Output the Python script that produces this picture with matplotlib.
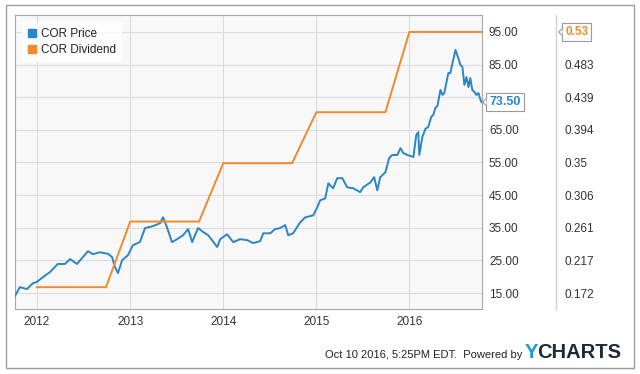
import matplotlib
matplotlib.use("Agg")
import matplotlib.pyplot as plt
from matplotlib.patches import Patch, Rectangle, Polygon
import pandas as pd

plt.rcParams['font.family'] = ['Liberation Sans', 'DejaVu Sans']

# price series
price_dates = [
    "2011-10-07", "2011-10-26", "2011-11-23", "2011-12-16", "2012-01-01", "2012-01-25",
    "2012-02-21", "2012-03-23", "2012-04-20", "2012-05-10", "2012-06-06", "2012-06-26",
    "2012-07-19", "2012-08-08", "2012-09-04", "2012-10-06", "2012-10-22", "2012-11-02",
    "2012-11-14", "2012-11-30", "2012-12-23", "2013-01-12", "2013-02-08", "2013-02-28",
    "2013-03-31", "2013-04-28", "2013-05-10", "2013-05-25", "2013-06-14", "2013-07-04",
    "2013-07-27", "2013-08-16", "2013-09-01", "2013-09-24", "2013-10-14", "2013-11-03",
    "2013-11-18", "2013-12-08", "2013-12-20", "2014-01-16", "2014-02-09", "2014-03-08",
    "2014-04-05", "2014-04-28", "2014-05-26", "2014-06-07", "2014-07-04", "2014-07-24",
    "2014-08-12", "2014-09-01", "2014-09-13", "2014-10-02", "2014-10-30", "2014-11-19",
    "2014-12-20", "2015-01-05", "2015-01-16", "2015-02-05", "2015-02-17", "2015-03-08",
    "2015-03-24", "2015-04-13", "2015-05-02", "2015-05-26", "2015-06-22", "2015-07-04",
    "2015-08-01", "2015-08-16", "2015-08-28", "2015-09-09", "2015-09-29", "2015-10-14",
    "2015-10-26", "2015-11-15", "2015-11-27", "2015-12-08", "2015-12-24", "2016-01-05",
    "2016-01-17", "2016-01-28", "2016-02-05", "2016-02-09", "2016-02-21", "2016-03-04",
    "2016-03-15", "2016-03-27", "2016-04-04", "2016-04-12", "2016-04-20", "2016-05-02",
    "2016-05-10", "2016-05-17", "2016-06-02", "2016-06-10", "2016-06-14", "2016-06-30",
    "2016-07-11", "2016-07-19", "2016-07-27", "2016-08-04", "2016-08-12", "2016-08-20",
    "2016-08-27", "2016-09-04", "2016-09-12", "2016-09-20", "2016-09-28", "2016-10-06",
    "2016-10-10",
]
price_vals = [
    14.1, 16.8, 16.2, 18.0, 18.4, 19.9,
    21.4, 23.9, 23.9, 25.4, 23.9, 25.7,
    27.8, 26.9, 27.5, 27.0, 26.0, 23.0,
    21.1, 25.0, 26.6, 29.7, 30.6, 34.9,
    35.5, 36.4, 38.2, 35.2, 30.6, 31.5,
    32.7, 34.6, 30.6, 34.9, 33.7, 32.7,
    31.2, 29.1, 31.5, 33.0, 30.6, 31.5,
    31.2, 30.3, 30.9, 33.3, 33.3, 34.6,
    34.9, 35.8, 32.7, 33.3, 36.7, 38.2,
    38.8, 41.3, 43.4, 44.0, 48.6, 47.1,
    50.2, 50.2, 47.4, 47.1, 45.9, 47.4,
    48.9, 50.5, 46.5, 50.5, 52.0, 56.4,
    57.3, 57.3, 59.4, 57.9, 57.3, 57.0,
    56.7, 63.4, 64.3, 57.3, 62.8, 65.3,
    65.9, 69.0, 69.6, 71.7, 72.3, 77.2,
    75.7, 76.3, 82.4, 82.4, 84.0, 89.5,
    87.0, 84.9, 84.3, 78.8, 81.2, 78.1,
    80.9, 77.2, 76.6, 75.7, 76.3, 74.2,
    73.5,
]

# dividend series
div_dates = ["2012-01-01", "2012-09-28", "2013-01-01", "2013-09-28", "2014-01-01",
             "2014-09-28", "2015-01-01", "2015-09-29", "2016-01-01", "2016-10-10"]
div_vals = [0.18, 0.18, 0.27, 0.27, 0.35, 0.35, 0.42, 0.42, 0.53, 0.53]

price_ticks = [15, 25, 35, 45, 55, 65, 75, 85, 95]
div_tick_labels = ["0.172", "0.217", "0.261", "0.306", "0.35", "0.394", "0.439", "0.483", "0.53"]
year_ticks = ["2012-01-01", "2013-01-01", "2014-01-01", "2015-01-01", "2016-01-01"]
year_labels = ["2012", "2013", "2014", "2015", "2016"]

blue = '#2a85c7'
orange = '#f08a2c'

W, H = 640, 374
fig = plt.figure(figsize=(W / 100, H / 100), dpi=100)
fig.patches.append(Rectangle((6 / W, 1 - 368 / H), 628 / W, 363 / H, transform=fig.transFigure,
                             fill=False, ec='#9c9c9c', lw=1.0))

ax = fig.add_axes([15 / W, 1 - 309 / H, 467 / W, 294 / H])
ax.set_facecolor('#f8f8f8')
ax.plot(pd.to_datetime(price_dates), price_vals, color=blue, lw=1.4, zorder=4)

ax.set_xlim(pd.Timestamp("2011-10-07"), pd.Timestamp("2016-10-12"))
ymin, ymax = 10.1, 100.2
ax.set_ylim(ymin, ymax)
ax.set_yticks(price_ticks)
ax.set_yticklabels(["%.2f" % v for v in price_ticks])
ax.set_xticks(pd.to_datetime(year_ticks))
ax.set_xticklabels(year_labels)
ax.grid(True, color='#dcdcdc', lw=0.8)
ax.set_axisbelow(True)
for s in ax.spines.values():
    s.set_color('#a8a8a8')
    s.set_linewidth(0.8)

# dividend axis, same pixels mapped 15..95 -> 0.172..0.53
ax2 = ax.twinx()
scale = (0.53 - 0.172) / 80.0
ax2.set_ylim(0.172 + (ymin - 15) * scale, 0.172 + (ymax - 15) * scale)
ax2.plot(pd.to_datetime(div_dates), div_vals, color=orange, lw=1.4)
ax2.set_yticks([0.172 + (p - 15) * scale for p in price_ticks])
ax2.set_yticklabels(div_tick_labels)
ax2.spines['right'].set_position(('axes', (556 - 15) / 467))
ax2.spines['right'].set_color('#d0d0d0')
ax2.spines['right'].set_linewidth(1.0)
for k in ['left', 'top', 'bottom']:
    ax2.spines[k].set_visible(False)
ax2.tick_params(axis='y', length=0, labelsize=8.5, colors='#333333', pad=6)

# price labels on the right (after twinx, which moves them back left)
ax.yaxis.tick_right()
ax.tick_params(axis='both', length=0, labelsize=8.5, colors='#333333')
ax.tick_params(axis='y', pad=5, left=False, labelleft=False, right=True, labelright=True)
ax.tick_params(axis='x', pad=5)


def value_box(axis, text, yval, dx, color, fs):
    axis.annotate(text, xy=(1, yval), xycoords=('axes fraction', 'data'),
                  xytext=(dx, 0), textcoords='offset pixels', ha='left', va='center',
                  fontsize=fs, fontweight='bold', color=color, annotation_clip=False, zorder=10,
                  bbox=dict(boxstyle='square,pad=0.25', fc='white', ec='#9a9a9a', lw=0.8))
    # small "<" notch on the left side of the box
    lo, hi = axis.get_ylim()
    px = 1.0 / 467
    py = (hi - lo) / 294
    x0 = 1 + (dx - 2.5) * px
    pts = [(x0, yval + 3.5 * py), (x0 - 4 * px, yval), (x0, yval - 3.5 * py)]
    axis.add_patch(Polygon(pts, closed=True, fc='white', ec='none', transform=axis.get_yaxis_transform(),
                           clip_on=False, zorder=11))
    axis.plot([p[0] for p in pts], [p[1] for p in pts], color='#9a9a9a', lw=0.8,
              transform=axis.get_yaxis_transform(), clip_on=False, zorder=12)


value_box(ax, "%.2f" % price_vals[-1], price_vals[-1], 7, blue, 9)
value_box(ax2, "%.2f" % div_vals[-1], div_vals[-1], 83, orange, 8.5)

handles = [Patch(color=blue, label='COR Price'), Patch(color=orange, label='COR Dividend')]
leg = ax2.legend(handles=handles, loc='upper left', bbox_to_anchor=(0.002, 0.995), fontsize=8.5,
                 handlelength=0.7, handleheight=0.7, handletextpad=0.4, borderpad=0.5,
                 labelspacing=0.3, frameon=True, fancybox=False, framealpha=0.85,
                 facecolor='white', edgecolor='none')
for t in leg.get_texts():
    t.set_color('#222222')

# footer
fig.text(522 / W, 1 - 355 / H, "Oct 10 2016, 5:25PM EDT.  Powered by", ha='right', va='center',
         fontsize=8, color='#222222')
fig.text(525 / W, 1 - 353 / H, "Y", ha='left', va='center', fontsize=14.5, fontweight='bold',
         color='#1e9ad6')
fig.text(537 / W, 1 - 353 / H, "CHARTS", ha='left', va='center', fontsize=14.5, fontweight='bold',
         color='#1c2b39')

fig.savefig("out.png", dpi=100)
